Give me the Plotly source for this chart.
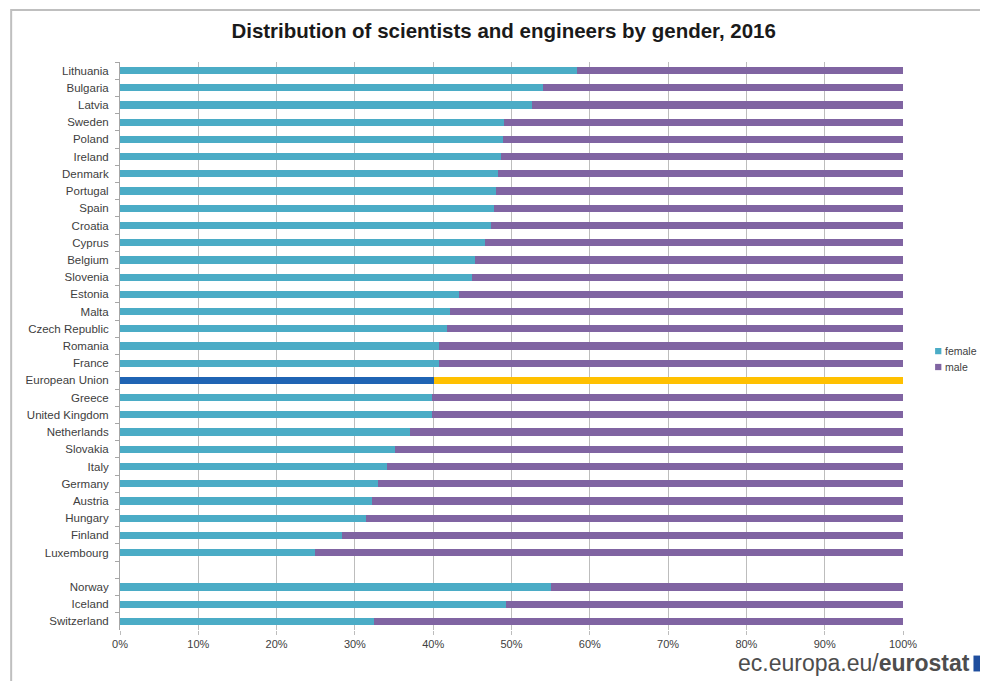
import plotly.graph_objects as go

countries = ["Lithuania", "Bulgaria", "Latvia", "Sweden", "Poland", "Ireland", "Denmark",
             "Portugal", "Spain", "Croatia", "Cyprus", "Belgium", "Slovenia", "Estonia",
             "Malta", "Czech Republic", "Romania", "France", "European Union", "Greece",
             "United Kingdom", "Netherlands", "Slovakia", "Italy", "Germany", "Austria",
             "Hungary", "Finland", "Luxembourg", "Norway", "Iceland", "Switzerland"]
category_order = countries[:29] + [" "] + countries[29:]

female = [58.4, 54.0, 52.6, 49.1, 48.9, 48.7, 48.3, 48.0, 47.8, 47.4, 46.6, 45.4, 45.0, 43.3,
          42.1, 41.7, 40.8, 40.7, 40.1, 39.9, 39.8, 37.1, 35.1, 34.1, 33.0, 32.2, 31.4, 28.4,
          24.9, 55.1, 49.3, 32.5]
male = [41.6, 46.0, 47.4, 50.9, 51.1, 51.3, 51.7, 52.0, 52.2, 52.6, 53.4, 54.6, 55.0, 56.7,
        57.9, 58.3, 59.2, 59.3, 59.9, 60.1, 60.2, 62.9, 64.9, 65.9, 67.0, 67.8, 68.6, 71.6,
        75.1, 44.9, 50.7, 67.5]
x_ticks = [0, 10, 20, 30, 40, 50, 60, 70, 80, 90, 100]
x_tick_labels = ["0%", "10%", "20%", "30%", "40%", "50%", "60%", "70%", "80%", "90%", "100%"]
series_names = ["female", "male"]

FEMALE_C = "#4BACC6"
MALE_C = "#8064A2"
EU_F = "#1F64B4"
EU_M = "#FFC000"

f_colors = [EU_F if c == "European Union" else FEMALE_C for c in countries]
m_colors = [EU_M if c == "European Union" else MALE_C for c in countries]

FONT = "Liberation Sans Narrow, Liberation Sans, Arial, sans-serif"

fig = go.Figure()
fig.add_trace(go.Bar(y=countries, x=female, orientation="h", name=series_names[0],
                     marker=dict(color=f_colors, line=dict(width=0)), showlegend=False))
fig.add_trace(go.Bar(y=countries, x=male, orientation="h", name=series_names[1],
                     marker=dict(color=m_colors, line=dict(width=0)), showlegend=False))

fig.update_layout(
    width=988, height=681,
    barmode="stack", bargap=0.58,
    plot_bgcolor="white", paper_bgcolor="white",
    margin=dict(l=112, r=93, t=54, b=59, autoexpand=False),
    title=dict(text="<b>Distribution of scientists and engineers by gender, 2016</b>",
               x=0.49, xref="paper", xanchor="center", y=0.967, yanchor="middle",
               font=dict(family=FONT, size=20.5, color="#1a1a1a")),
    font=dict(family=FONT, size=11, color="#404040"),
    xaxis=dict(range=[0, 100], tickvals=x_ticks, ticktext=x_tick_labels, showgrid=True,
               gridcolor="#BDBDBD", gridwidth=1, zeroline=False, showline=False,
               ticks="outside", ticklen=4, tickcolor="#BDBDBD",
               tickfont=dict(family=FONT, size=11, color="#404040")),
    yaxis=dict(categoryorder="array", categoryarray=category_order, autorange="reversed",
               showline=True, linecolor="#A6A6A6", linewidth=1, ticks="outside",
               tickson="boundaries", ticklen=4, tickcolor="#A6A6A6", showgrid=False,
               ticklabelstandoff=8,
               tickfont=dict(family=FONT, size=11.5, color="#404040")),
)

# outer chart frame
fig.add_shape(type="rect", xref="paper", yref="paper", x0=-0.139, x1=1.3, y0=-0.3, y1=1.0915,
              line=dict(color="#BFBFBF", width=2), fillcolor="rgba(0,0,0,0)", layer="below")

# legend (drawn at the reference position, right of the plot)
legend_colors = [FEMALE_C, MALE_C]
legend_y = [0.491, 0.463]
for name, col, ly in zip(series_names, legend_colors, legend_y):
    fig.add_shape(type="rect", xref="paper", yref="paper", x0=1.041, x1=1.049,
                  y0=ly - 0.0055, y1=ly + 0.0055, fillcolor=col, line=dict(width=0))
    fig.add_annotation(xref="paper", yref="paper", x=1.051, y=ly, xanchor="left",
                       yanchor="middle", text=name, showarrow=False,
                       font=dict(family=FONT, size=10.5, color="#404040"))

fig.add_annotation(xref="paper", yref="paper", x=1.088, y=-0.058, xanchor="right", yanchor="middle",
                   text="ec.europa.eu/<b>eurostat</b>", showarrow=False,
                   font=dict(family="Liberation Sans, Arial, sans-serif", size=23, color="#4d4d4d"))
fig.add_shape(type="rect", xref="paper", yref="paper", x0=1.09, x1=1.115, y0=-0.073, y1=-0.045,
              fillcolor="#1F4E9E", line=dict(width=0))

fig.write_html("out.html")
